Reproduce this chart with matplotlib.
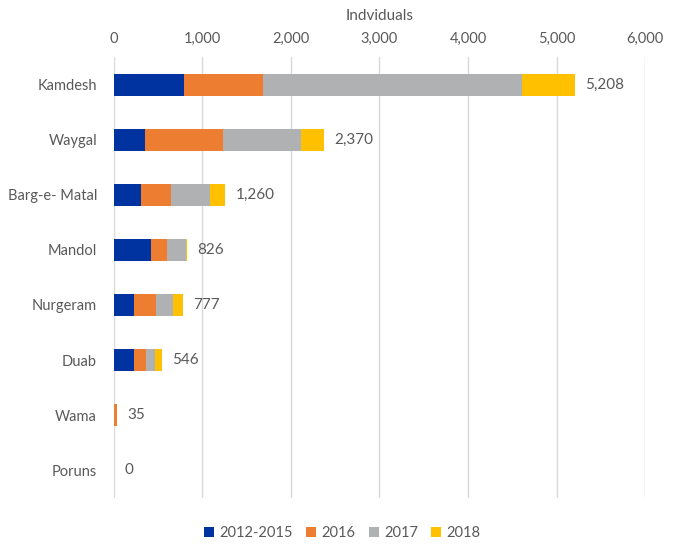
import numpy as np
import matplotlib.pyplot as plt
from matplotlib.ticker import FuncFormatter

plt.rcParams['font.family'] = ['Lato', 'DejaVu Sans']

districts = ['Kamdesh', 'Waygal', 'Barg-e- Matal', 'Mandol', 'Nurgeram', 'Duab', 'Wama', 'Poruns']
y2012_2015 = [797, 358, 306, 423, 230, 230, 0, 0]
y2016 = [884, 870, 344, 181, 250, 136, 35, 0]
y2017 = [2929, 888, 434, 216, 192, 102, 0, 0]
y2018 = [598, 254, 176, 6, 105, 78, 0, 0]
totals = [5208, 2370, 1260, 826, 777, 546, 35, 0]

series = [('2012-2015', y2012_2015, '#0033a0'),
          ('2016', y2016, '#ed7d31'),
          ('2017', y2017, '#b0b1b3'),
          ('2018', y2018, '#ffc000')]

txt = '#595959'
fig = plt.figure(figsize=(6.77, 5.44), dpi=100)
ax = fig.add_axes([0.168, 0.085, 0.785, 0.81])

ypos = np.arange(len(districts))
left = np.zeros(len(districts))
for name, vals, col in series:
    ax.barh(ypos, vals, left=left, height=0.4, color=col, label=name, zorder=3)
    left += np.array(vals)

for y, t in zip(ypos, totals):
    ax.annotate(f'{t:,}', xy=(t, y), xytext=(7.5, 0), textcoords='offset points',
                va='center', ha='left', fontsize=11, color=txt)

ax.set_xlim(0, 6000)
ax.set_ylim(len(districts) - 0.5, -0.5)
ax.set_yticks(ypos)
ax.set_yticklabels(districts)
ax.set_xticks(np.arange(0, 6001, 1000))
ax.xaxis.set_major_formatter(FuncFormatter(lambda v, p: f'{int(v):,}'))
ax.xaxis.tick_top()
ax.xaxis.set_label_position('top')
ax.set_xlabel('Indviduals', fontsize=11, color=txt, labelpad=9)
ax.tick_params(axis='both', length=0, labelsize=10.5, colors=txt)
ax.tick_params(axis='x', pad=8)
ax.tick_params(axis='y', pad=12)
ax.grid(axis='x', color='#d9d9d9', lw=1, zorder=0)
for s in ax.spines.values():
    s.set_visible(False)

ax.legend(loc='center', bbox_to_anchor=(0.43, -0.08), ncol=4, frameon=False,
          fontsize=10.5, labelcolor=txt, handlelength=0.7, handleheight=0.7,
          handletextpad=0.35, columnspacing=0.9)

fig.savefig('out.png', dpi=100)
